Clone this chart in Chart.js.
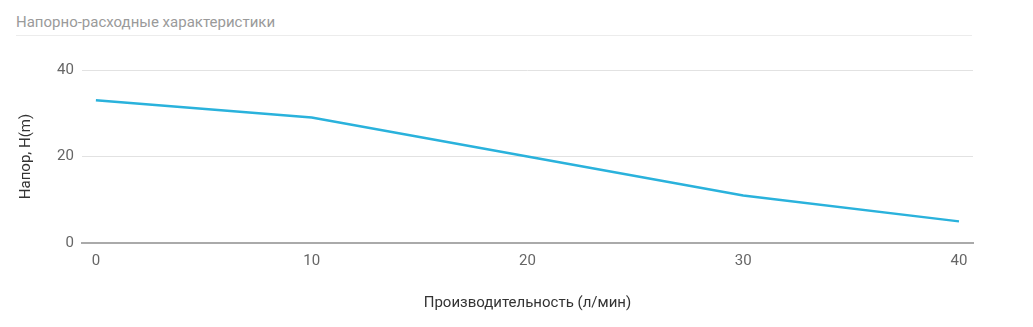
<!DOCTYPE html>
<html>
<head>
<meta charset="utf-8">
<script src="https://cdn.jsdelivr.net/npm/chart.js@4"></script>
<style>
  html, body { margin: 0; padding: 0; background: #fff; }
  body { width: 1033px; height: 327px; overflow: hidden; font-family: Roboto, sans-serif; }
  .title {
    position: absolute; left: 16px; top: 13px; width: 956px;
    font-size: 15px; color: #9a9a9a; padding-bottom: 4px;
    border-bottom: 1px solid #ececec;
  }
  .wrap { position: absolute; left: 0; top: 36px; width: 1033px; height: 291px; }
</style>
</head>
<body>
<div class="title">Напорно-расходные характеристики</div>
<div class="wrap"><canvas id="chart"></canvas></div>
<script>
  // flow, l/min
  const flow = [0, 10, 20, 30, 40];
  // head, m
  const head = [33, 29, 20, 11, 5];
  const xTicks = [0, 10, 20, 30, 40];
  const yTicks = [0, 20, 40];

  const ctx = document.getElementById('chart').getContext('2d');
  new Chart(ctx, {
    type: 'line',
    data: {
      datasets: [{
        data: flow.map((f, i) => ({ x: f, y: head[i] })),
        borderColor: '#2ab2dc',
        borderWidth: 2.5,
        pointRadius: 0,
        tension: 0,
        fill: false,
      }],
    },
    options: {
      responsive: true,
      maintainAspectRatio: false,
      animation: false,
      layout: { padding: { top: 34, right: 60, left: 13, bottom: 11 } },
      plugins: { legend: { display: false }, tooltip: { enabled: false } },
      scales: {
        x: {
          type: 'linear',
          min: -0.65,
          max: 40.65,
          afterBuildTicks: (s) => { s.ticks = xTicks.map(v => ({ value: v })); },
          grid: { display: false, drawTicks: false },
          border: { display: true, color: '#aaaaaa', width: 2 },
          ticks: { color: '#666', font: { family: 'Roboto', size: 15 }, padding: 9 },
          title: {
            display: true, text: 'Производительность (л/мин)', color: '#333',
            font: { family: 'Roboto', size: 15 }, padding: { top: 15 },
          },
        },
        y: {
          min: 0,
          max: 40,
          afterBuildTicks: (s) => { s.ticks = yTicks.map(v => ({ value: v })); },
          grid: { color: '#e2e2e2', drawTicks: false },
          border: { display: false },
          ticks: { color: '#666', font: { family: 'Roboto', size: 15 }, padding: 8 },
          title: {
            display: true, text: 'Напор, H(m)', color: '#333',
            font: { family: 'Roboto', size: 15 }, padding: { bottom: 14 },
          },
        },
      },
    },
  });
</script>
</body>
</html>
